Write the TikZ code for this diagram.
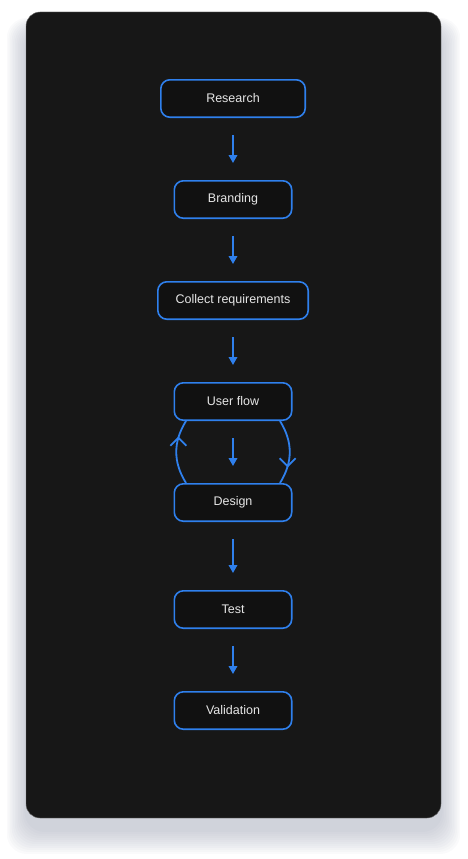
\documentclass[tikz,border=0pt]{standalone}
\usepackage{fontspec}
\setmainfont{Liberation Sans}
\usetikzlibrary{positioning,calc,arrows.meta,decorations.markings}
\definecolor{cardbg}{HTML}{171717}
\definecolor{boxbg}{HTML}{111111}
\definecolor{flowblue}{HTML}{2F80ED}
\definecolor{labelgrey}{HTML}{E6E6E6}
\definecolor{shadowgrey}{HTML}{8E94A8}

\begin{document}
\begin{tikzpicture}[x=1pt,y=-1pt,
    stepbox/.style={draw=flowblue, line width=1.6pt, fill=boxbg, rounded corners=9pt,
      minimum height=37.4pt, minimum width=117.4pt, inner sep=0pt,
      text=labelgrey, font=\fontsize{12.5}{15}\selectfont},
    flow/.style={draw=flowblue, line width=1.8pt, -{Triangle[length=8pt,width=8.5pt]},
      shorten <=17pt, shorten >=17pt},
    loopline/.style={draw=flowblue, line width=1.8pt, postaction={decorate}},
    chevup/.style={decoration={markings, mark=at position 0.72 with {\pgftransformresetnontranslations
      \draw[flowblue, line width=1.8pt, line join=round] (-8pt,-8pt) -- (0pt,0pt) -- (8pt,-8pt);}}},
    chevdown/.style={decoration={markings, mark=at position 0.72 with {\pgftransformresetnontranslations
      \draw[flowblue, line width=1.8pt, line join=round] (-8pt,8pt) -- (0pt,0pt) -- (8pt,8pt);}}}]
    \useasboundingbox (0,0) rectangle (467,859);
    % card with shadow
    \foreach \s in {2,4,...,24} {
        \fill[shadowgrey, opacity=0.045, rounded corners=20pt] (26-0.8*\s,30-0.5*\s) rectangle (441+0.8*\s,830+\s);
    }
    \fill[cardbg, draw=black!55, line width=0.4pt, rounded corners=14pt] (26,12) rectangle (441,818);
    % steps
    \node[stepbox, minimum width=144.4pt] (research) at (233,98.5) {Research};
    \node[stepbox, below=62pt of research] (branding) {Branding};
    \node[stepbox, minimum width=150.4pt, below=62pt of branding] (collect) {Collect requirements};
    \node[stepbox, below=62pt of collect] (uflow) {User flow};
    \node[stepbox, below=62pt of uflow] (design) {Design};
    \node[stepbox, below=68pt of design] (test) {Test};
    \node[stepbox, below=62pt of test] (validation) {Validation};
    % arrows
    \draw[flow] (research) -- (branding);
    \draw[flow] (branding) -- (collect);
    \draw[flow] (collect) -- (uflow);
    \draw[flow] (uflow) -- (design);
    \draw[flow] (design) -- (test);
    \draw[flow] (test) -- (validation);
    % iteration loop
    \draw[loopline, chevup] ([xshift=-47pt]design.north) .. controls +(-13,-21) and +(-13,21) .. ([xshift=-47pt]uflow.south);
    \draw[loopline, chevdown] ([xshift=47pt]uflow.south) .. controls +(13,21) and +(13,-21) .. ([xshift=47pt]design.north);
\end{tikzpicture}
\end{document}
